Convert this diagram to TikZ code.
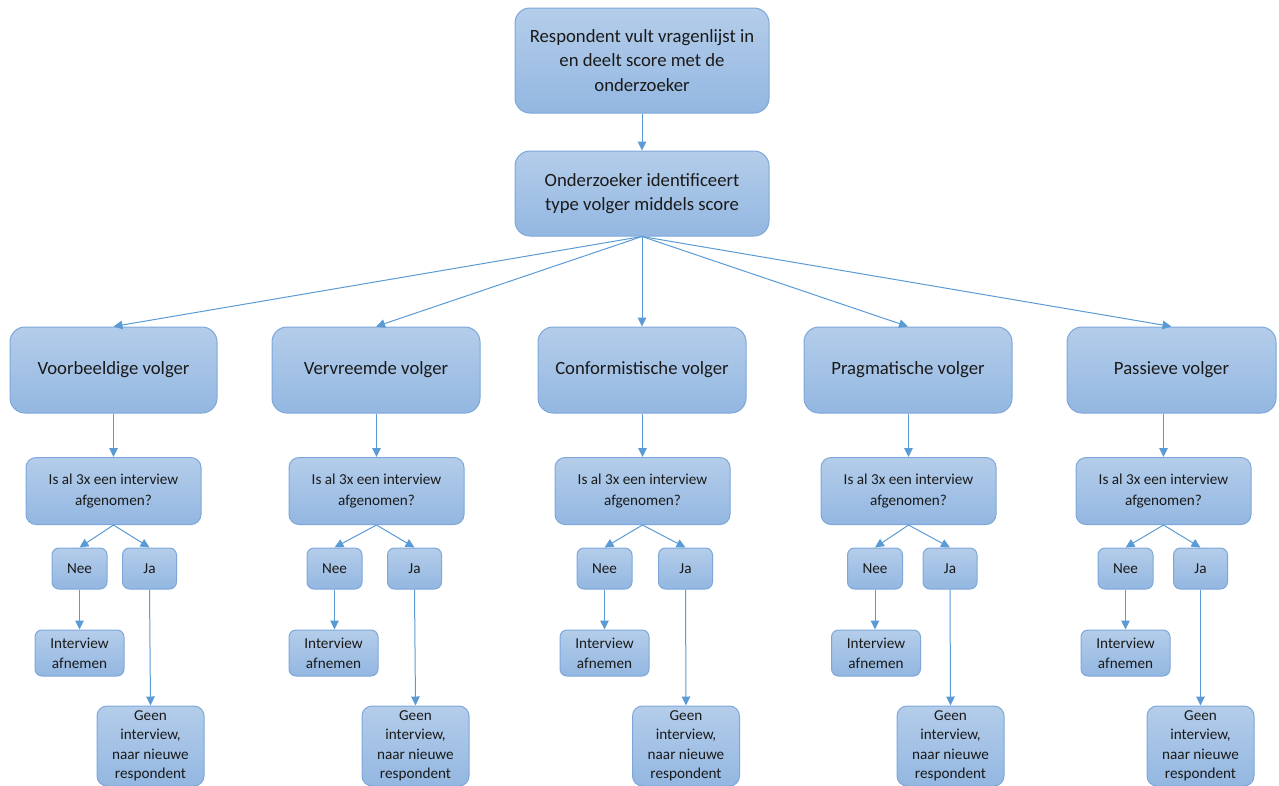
\documentclass[tikz,border=0pt]{standalone}
\usepackage{fontspec}
\setmainfont{Carlito}
\usetikzlibrary{arrows.meta}
\definecolor{boxtop}{HTML}{B4CDEA}
\definecolor{boxbot}{HTML}{93B7E1}
\definecolor{boxline}{HTML}{7DA7D9}
\definecolor{arrowc}{HTML}{5B9BD5}
\definecolor{txt}{HTML}{1A1A1A}
\tikzset{
  basebox/.style={draw=boxline, line width=1pt, top color=boxtop, bottom color=boxbot, text=txt, align=center, inner sep=0pt},
  bigbox/.style={basebox, rounded corners=15pt, font=\fontsize{18.7}{24.5}\selectfont},
  qbox/.style={basebox, rounded corners=10pt, font=\fontsize{15.2}{20.5}\selectfont},
  geenbox/.style={basebox, rounded corners=10pt, font=\fontsize{15.2}{19.5}\selectfont},
  smallbox/.style={basebox, rounded corners=7pt, font=\fontsize{15.2}{20}\selectfont},
  conn/.style={draw=arrowc, line width=1pt, -{Triangle[length=9pt,width=8.5pt]}},
}
\begin{document}
\begin{tikzpicture}[x=1pt,y=-1pt]
\useasboundingbox (0,0) rectangle (1279,785);
\clip (0,0) rectangle (1279,785);
% top
\node[bigbox, minimum width=254pt, minimum height=105pt] (top) at (642,60.5) {Respondent vult vragenlijst in\\en deelt score met de\\onderzoeker};
\node[bigbox, minimum width=254pt, minimum height=85pt] (ident) at (642,193.5) {Onderzoeker identificeert\\type volger middels score};
\draw[conn] (top.south) -- (ident.north);
% level 3
\node[bigbox, minimum width=207pt, minimum height=86pt] (t1) at (113.5,370) {Voorbeeldige volger};
\node[bigbox, minimum width=208pt, minimum height=86pt] (t2) at (376,370) {Vervreemde volger};
\node[bigbox, minimum width=208pt, minimum height=86pt] (t3) at (642,370) {Conformistische volger};
\node[bigbox, minimum width=208pt, minimum height=86pt] (t4) at (908,370) {Pragmatische volger};
\node[bigbox, minimum width=209pt, minimum height=86pt] (t5) at (1171.5,370) {Passieve volger};
\foreach \i in {1,...,5} {\draw[conn] (ident.south) -- (t\i.north);}
% columns
\foreach \i/\q/\n/\j/\ii/\g in {1/113.5/79.5/149.5/79.5/150.5, 2/376.5/334.5/414.5/333.5/415.5, 3/642.5/604.5/685.5/604.5/686, 4/908.5/875/950/876/950.5, 5/1163.5/1125.5/1200.5/1125.5/1200.5} {
  \node[qbox, minimum width=175pt, minimum height=67pt] (q\i) at (\q,491) {Is al 3x een interview\\afgenomen?};
  \node[smallbox, minimum width=55pt, minimum height=41pt] (nee\i) at (\n,568.5) {Nee};
  \node[smallbox, minimum width=54pt, minimum height=41pt] (ja\i) at (\j,568.5) {Ja};
  \node[smallbox, minimum width=89pt, minimum height=46pt] (int\i) at (\ii,653) {Interview\\afnemen};
  \node[geenbox, minimum width=107pt, minimum height=80pt] (geen\i) at (\g,746) {Geen\\interview,\\naar nieuwe\\respondent};
  \draw[conn] (t\i.south -| q\i.north) -- (q\i.north);
  \draw[conn] (q\i.south) -- (nee\i.north);
  \draw[conn] (q\i.south) -- (ja\i.north);
  \draw[conn] (nee\i.south) -- (nee\i.south |- int\i.north);
  \draw[conn] (ja\i.south) -- (geen\i.north);
}
\end{tikzpicture}
\end{document}
